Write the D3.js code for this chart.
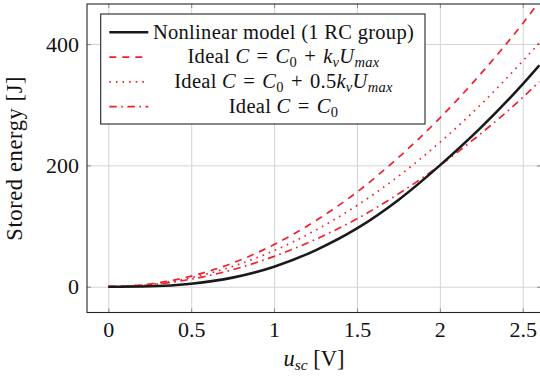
<!DOCTYPE html>
<html>
<head>
<meta charset="utf-8">
<script src="https://cdn.jsdelivr.net/npm/d3@7"></script>
</head>
<body style="margin:0">
<div id="chart"></div>
<script>
// chart values
var uVals = [0, 0.25, 0.5, 0.75, 1, 1.25, 1.5, 1.75, 2, 2.25, 2.5, 2.6];
var nonlinearE = [0, 0.8, 5, 15, 33, 60, 96, 143, 200, 263, 334, 365];
var idealFullE = [0, 4.3, 17.4, 39, 69.5, 108.6, 156, 213, 278, 352, 434, 470];
var idealHalfE = [0, 3.7, 15, 33.5, 59.5, 93, 134, 182, 238, 301, 372, 402];
var idealC0E = [0, 3.1, 12.5, 28, 50, 78, 112, 153, 200, 253, 312, 338];

var xTicks = [0, 0.5, 1, 1.5, 2, 2.5];
var yTicks = [0, 200, 400];

var FONT = 'Liberation Serif';
var svgWidth = 540;
var svgHeight = 379;

var plot = { left: 87, right: 541, top: 4, bottom: 312.5 };

var svg = d3.select('#chart').append('svg')
    .attr('width', svgWidth)
    .attr('height', svgHeight)
    .attr('font-family', FONT)
    .style('display', 'block');

var x = d3.scaleLinear().domain([-0.1285, 2.61]).range([plot.left, plot.right]);
var y = d3.scaleLinear().domain([-42.5, 466]).range([plot.bottom, plot.top]);

var plotH = plot.bottom - plot.top;
var plotW = plot.right - plot.left;

function styleAxis(g, color){
    g.select('.domain').remove();
    g.selectAll('line').attr('stroke', color).attr('stroke-width', 1);
}

// grid
svg.append('g')
    .attr('transform', `translate(0, ${plot.bottom})`)
    .call(d3.axisBottom(x).tickValues(xTicks).tickSize(-plotH).tickFormat(''))
    .call(g => styleAxis(g, '#d4d4d4'));
svg.append('g')
    .attr('transform', `translate(${plot.left}, 0)`)
    .call(d3.axisLeft(y).tickValues(yTicks).tickSize(-plotW).tickFormat(''))
    .call(g => styleAxis(g, '#d4d4d4'));

// inward tick marks on all four sides
svg.append('g')
    .attr('transform', `translate(0, ${plot.bottom})`)
    .call(d3.axisBottom(x).tickValues(xTicks).tickSize(-4).tickFormat(''))
    .call(g => styleAxis(g, '#8a8a8a'));
svg.append('g')
    .attr('transform', `translate(0, ${plot.top})`)
    .call(d3.axisTop(x).tickValues(xTicks).tickSize(-4).tickFormat(''))
    .call(g => styleAxis(g, '#8a8a8a'));
svg.append('g')
    .attr('transform', `translate(${plot.left}, 0)`)
    .call(d3.axisLeft(y).tickValues(yTicks).tickSize(-4).tickFormat(''))
    .call(g => styleAxis(g, '#8a8a8a'));
svg.append('g')
    .attr('transform', `translate(${plot.right}, 0)`)
    .call(d3.axisRight(y).tickValues(yTicks).tickSize(-4).tickFormat(''))
    .call(g => styleAxis(g, '#8a8a8a'));

// tick labels
var xLab = svg.append('g')
    .attr('transform', `translate(0, ${plot.bottom})`)
    .call(d3.axisBottom(x).tickValues(xTicks).tickSize(0).tickPadding(9).tickFormat(d => String(d)));
var yLab = svg.append('g')
    .attr('transform', `translate(${plot.left}, 0)`)
    .call(d3.axisLeft(y).tickValues(yTicks).tickSize(0).tickPadding(8).tickFormat(d => String(d)));
[xLab, yLab].forEach(function(g){
    g.select('.domain').remove();
    g.selectAll('line').remove();
    g.attr('font-family', FONT).attr('font-size', 22);
    g.selectAll('text').attr('fill', '#111');
});

// curves
svg.append('clipPath').attr('id', 'clip')
    .append('rect')
    .attr('x', plot.left).attr('y', plot.top)
    .attr('width', plotW).attr('height', plotH);

var series = [
    { values: idealFullE, color: '#f0202a', width: 1.7, dash: '7,6' },
    { values: idealHalfE, color: '#f0202a', width: 1.7, dash: '1.6,5' },
    { values: idealC0E, color: '#f0202a', width: 1.7, dash: '7.5,4.5,1.6,4.5' },
    { values: nonlinearE, color: '#1a1a1a', width: 2.6, dash: null }
];

var line = d3.line()
    .x(d => x(d[0]))
    .y(d => y(d[1]))
    .curve(d3.curveMonotoneX);

var curves = svg.append('g').attr('clip-path', 'url(#clip)');
series.forEach(function(s){
    curves.append('path')
        .datum(uVals.map((u, i) => [u, s.values[i]]))
        .attr('fill', 'none')
        .attr('stroke', s.color)
        .attr('stroke-width', s.width)
        .attr('stroke-dasharray', s.dash)
        .attr('d', line);
});

// frame (right side falls just outside the picture)
svg.append('rect')
    .attr('x', plot.left).attr('y', plot.top)
    .attr('width', plotW).attr('height', plotH)
    .attr('fill', 'none')
    .attr('stroke', '#262626')
    .attr('stroke-width', 1.1);

// axis titles
var xTitle = svg.append('text')
    .attr('x', (plot.left + plot.right) / 2)
    .attr('y', 366)
    .attr('text-anchor', 'middle')
    .attr('fill', '#111')
    .attr('font-size', 22.5);
xTitle.append('tspan').attr('font-style', 'italic').text('u');
xTitle.append('tspan').attr('font-style', 'italic').attr('font-size', 15.5)
    .attr('dy', 4).text('sc');
xTitle.append('tspan').attr('dy', -4).text(' [V]');

svg.append('text')
    .attr('transform', `translate(22, ${(plot.top + plot.bottom) / 2}) rotate(-90)`)
    .attr('text-anchor', 'middle')
    .attr('fill', '#111')
    .attr('font-size', 22.5)
    .attr('letter-spacing', 0.6)
    .text('Stored energy [J]');

// legend
var legend = svg.append('g');
legend.append('rect')
    .attr('x', 100.7).attr('y', 14)
    .attr('width', 324.3).attr('height', 110)
    .attr('fill', '#fff')
    .attr('stroke', '#262626')
    .attr('stroke-width', 1.1);

var sp = '\u2004';
var legendRows = [
    [['Nonlinear model (1 RC group)', 'n']],
    [['Ideal ', 'n'], ['C', 'i'], [sp + '=' + sp, 'n'], ['C', 'i'], ['0', 's'], [sp + '+' + sp, 'n'], ['k', 'i'], ['v', 'si'], ['U', 'i'], ['max', 'si']],
    [['Ideal ', 'n'], ['C', 'i'], [sp + '=' + sp, 'n'], ['C', 'i'], ['0', 's'], [sp + '+' + sp + '0.5', 'n'], ['k', 'i'], ['v', 'si'], ['U', 'i'], ['max', 'si']],
    [['Ideal ', 'n'], ['C', 'i'], [sp + '=' + sp, 'n'], ['C', 'i'], ['0', 's']]
];
var legendOrder = [3, 0, 1, 2];
var rowY = [32.3, 57.1, 81.9, 106.7];

legendRows.forEach(function(parts, i){
    var s = series[legendOrder[i]];
    legend.append('line')
        .attr('x1', 109.3).attr('x2', 148.3)
        .attr('y1', rowY[i]).attr('y2', rowY[i])
        .attr('stroke', s.color)
        .attr('stroke-width', s.width)
        .attr('stroke-dasharray', s.dash);
    var t = legend.append('text')
        .attr('x', 283.5)
        .attr('y', rowY[i] + 6.3)
        .attr('text-anchor', 'middle')
        .attr('fill', '#111')
        .attr('font-size', 20.5)
        .attr('letter-spacing', 0.3);
    var low = false;
    parts.forEach(function(p){
        var sub = p[1] === 's' || p[1] === 'si';
        var ts = t.append('tspan').text(p[0]);
        if (p[1] === 'i' || p[1] === 'si') ts.attr('font-style', 'italic');
        if (sub) ts.attr('font-size', 14.5);
        if (sub && !low) { ts.attr('dy', 4); low = true; }
        else if (!sub && low) { ts.attr('dy', -4); low = false; }
    });
});
</script>
</body>
</html>
